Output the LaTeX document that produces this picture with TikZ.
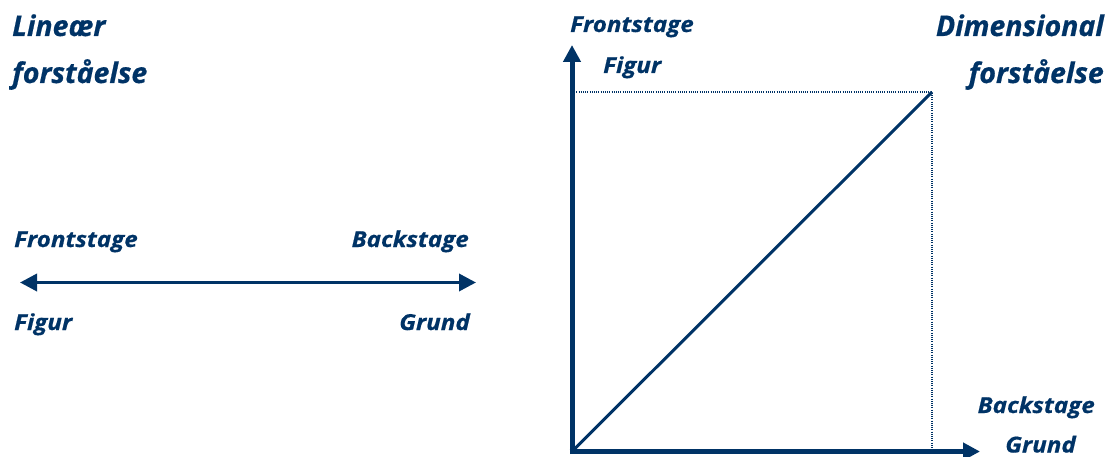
\documentclass[tikz,border=0pt]{standalone}
\usepackage{fontspec}
\setmainfont{Open Sans}[BoldItalicFeatures={FakeBold=0.6}]
\newfontfamily\lblfont{Open Sans}[FakeStretch=1.1,BoldItalicFeatures={FakeBold=0.6}]
\usetikzlibrary{arrows.meta}
\definecolor{navy}{RGB}{0,51,102}
\begin{document}
\begin{tikzpicture}[x=1pt,y=1pt,
  lbl/.style={inner sep=0pt, text=navy, font=\lblfont\fontsize{22}{26}\selectfont\bfseries\itshape},
  big/.style={inner sep=0pt, text=navy, font=\fontsize{28.5}{34}\selectfont\bfseries\itshape},
  axis/.style={draw=navy, line width=5pt, -{Triangle[length=17pt,width=17pt]}},
  dbl/.style={draw=navy, line width=3.5pt, {Triangle[length=17pt,width=17pt]}-{Triangle[length=17pt,width=17pt]}},
  diag/.style={draw=navy, line width=3pt},
  guide/.style={draw=navy, line width=1.3pt, dash pattern=on 1pt off 1.2pt}]
\useasboundingbox (0,0) rectangle (1116,456);
% left part
\node[big, anchor=base west] (lin) at (12,420) {Lineær};
\node[big, anchor=base west] (lfor) at (12,373) {forståelse};
\coordinate (L) at (20,173.5);
\coordinate (R) at (476,173.5);
\draw[dbl] (L) -- (R);
\node[lbl, anchor=base west] (lfront) at (14,209) {Frontstage};
\node[lbl, anchor=base east] (lback) at (469,209) {Backstage};
\node[lbl, anchor=base west] (lfig) at (14,126) {Figur};
\node[lbl, anchor=base east] (lgr) at (470,126) {Grund};
% right part
\node[big, anchor=base east] (dim) at (1104,420) {Dimensional};
\node[big, anchor=base east] (rfor) at (1104,373) {forståelse};
\coordinate (O) at (572,4.5);
\coordinate (Ox) at (569.5,4.5);
\coordinate (Oy) at (572,2);
\coordinate (Yt) at (572,411);
\coordinate (Xt) at (980,4.5);
\coordinate (C) at (932,364);
\coordinate (Cy) at (572,364);
\coordinate (Cx) at (932,4.5);
\draw[guide] (Cy) -- (C) -- (Cx);
\draw[diag] (O) -- (C);
\draw[axis] (Oy) -- (Yt);
\draw[axis] (Ox) -- (Xt);
\node[lbl, anchor=base west] (tfront) at (570,424) {Frontstage};
\node[lbl, anchor=base west] (tfig) at (603,383) {Figur};
\node[lbl, anchor=base east] (bback) at (1095,43) {Backstage};
\node[lbl, anchor=base east] (bgr) at (1076,3.5) {Grund};
\end{tikzpicture}
\end{document}
